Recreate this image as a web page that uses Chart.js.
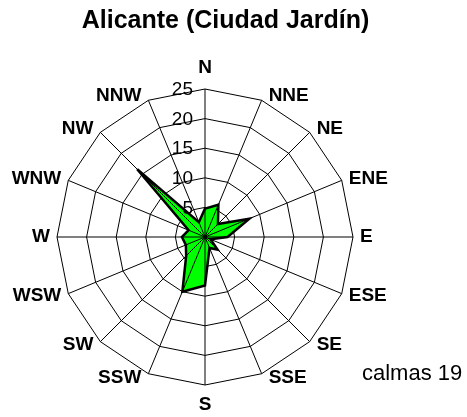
<!DOCTYPE html>
<html>
<head>
<meta charset="utf-8">
<script src="https://cdn.jsdelivr.net/npm/chart.js@4"></script>
<style>
  html, body { margin: 0; padding: 0; background: #fff; }
  #wrap { width: 467px; height: 417px; }
</style>
</head>
<body>
<div id="wrap"><canvas id="rose"></canvas></div>
<script>
// ─── Data ─────────────────────────────────────────────────────────
const TITLE = 'Alicante (Ciudad Jardín)';
const DIRS  = ['N','NNE','NE','ENE','E','ESE','SE','SSE','S','SSW','SW','WSW','W','WNW','NW','NNW'];
const FREQ  = [4.8, 5.9, 3.1, 8.1, 3.8, 1.0, 3.0, 2.0, 8.2, 10.0, 4.5, 3.5, 3.9, 3.0, 16.2, 2.7];
const TICKS = [5, 10, 15, 20, 25];
const CALMS = 19;

const FONT = '"Liberation Sans", Arial, sans-serif';

// spokes go over the fill, rings stay under it (like the original)
const spokes = {
  id: 'spokes',
  afterDatasetsDraw(chart) {
    const s = chart.scales.r, c = chart.ctx;
    c.save();
    c.strokeStyle = '#000'; c.lineWidth = 1;
    DIRS.forEach((_, i) => {
      const p = s.getPointPosition(i, s.drawingArea);
      c.beginPath(); c.moveTo(s.xCenter, s.yCenter); c.lineTo(p.x, p.y); c.stroke();
    });
    c.restore();
  }
};

// labels, ticks, title, calms
const texts = {
  id: 'texts',
  afterDraw(chart) {
    const s = chart.scales.r, c = chart.ctx;
    c.save();
    c.fillStyle = '#000';

    // tick values left of the N spoke
    c.font = '19px ' + FONT;
    c.textAlign = 'right'; c.textBaseline = 'middle';
    TICKS.forEach(v => c.fillText(String(v), s.xCenter - 12, s.yCenter - s.getDistanceFromCenterForValue(v) + 1));

    // direction labels
    c.font = 'bold 19px ' + FONT;
    DIRS.forEach((d, i) => {
      const p = s.getPointPosition(i, s.drawingArea);
      const a = i * Math.PI / 8;
      const dy = -4.5 * Math.cos(a);
      if (i === 0)      { c.textAlign = 'center'; c.fillText(d, p.x, p.y - 21); }
      else if (i === 8) { c.textAlign = 'center'; c.fillText(d, p.x, p.y + 20); }
      else if (i < 8)   { c.textAlign = 'left';   c.fillText(d, p.x + 7, p.y + dy); }
      else              { c.textAlign = 'right';  c.fillText(d, p.x - 7, p.y + dy); }
    });

    c.textBaseline = 'alphabetic';
    c.font = 'bold 25px ' + FONT;
    c.textAlign = 'center';
    c.fillText(TITLE, 225.5, 28);

    c.font = '22px ' + FONT;
    c.textAlign = 'left';
    c.fillText('calmas ' + CALMS, 362, 380);
    c.restore();
  }
};

new Chart(document.getElementById('rose'), {
  type: 'radar',
  data: {
    labels: DIRS,
    datasets: [{
      data: FREQ,
      backgroundColor: '#00ff00',
      borderColor: '#000',
      borderWidth: 2.5,
      pointRadius: 0,
      fill: true,
    }],
  },
  options: {
    responsive: true, maintainAspectRatio: false, animation: false,
    layout: { padding: { left: 57, right: 113, top: 88, bottom: 31 } },
    plugins: { legend: { display: false }, tooltip: { enabled: false } },
    scales: {
      r: {
        min: 0, max: 25,
        ticks: { stepSize: 5, display: false },
        grid: { color: '#000', lineWidth: 1 },
        angleLines: { display: false },
        pointLabels: { display: false },
      },
    },
  },
  plugins: [spokes, texts],
});
</script>
</body>
</html>
